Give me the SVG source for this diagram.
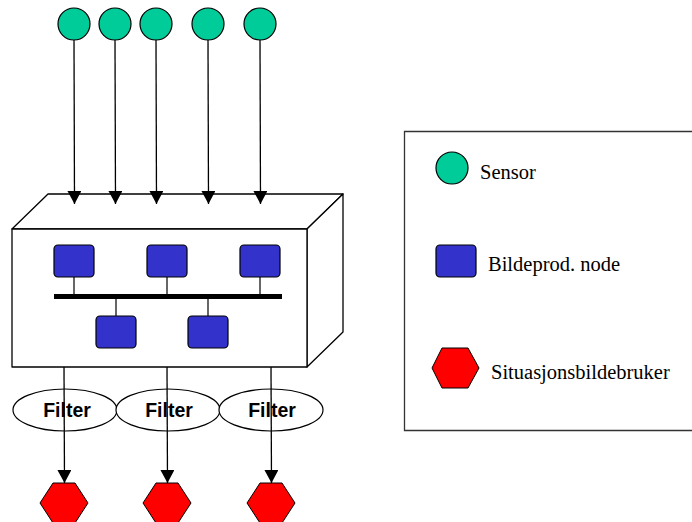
<svg xmlns="http://www.w3.org/2000/svg" width="692" height="522" viewBox="0 0 692 522">
  <defs>
    <marker id="arrow" markerWidth="13" markerHeight="14" refX="13" refY="7" orient="auto" markerUnits="userSpaceOnUse">
      <path d="M0,0 L13,7 L0,14 Z" fill="#000"/>
    </marker>
    <style>
      .edge { stroke: #000; stroke-width: 1.3; fill: none; }
      .sensor { fill: #00CC99; stroke: #000; stroke-width: 1.2; }
      .node { fill: #3333CC; stroke: #000; stroke-width: 1.2; }
      .user { fill: #FF0000; stroke: #000; stroke-width: 1; }
      .box { fill: #fff; stroke: #000; stroke-width: 1.3; stroke-linejoin: round; }
      .filter { fill: #fff; stroke: #000; stroke-width: 1.2; }
      .filter-label { font-family: "Liberation Sans", Arial, sans-serif; font-weight: bold; font-size: 19.5px; text-anchor: middle; }
      .legend-label { font-family: "Liberation Serif", "Times New Roman", serif; font-size: 20.5px; }
      .link { stroke: #000; stroke-width: 1.2; }
    </style>
  </defs>

  <rect width="692" height="522" fill="#fff"/>

  <!-- system box (3D block) -->
  <g id="system">
    <polygon class="box" points="48,194 343,194 307,229 12,229"/>
    <polygon class="box" points="307,229 343,194 343,332 307,367"/>
    <rect class="box" x="12" y="229" width="295" height="138"/>
  </g>

  <!-- internal bus network -->
  <g id="bus">
    <rect x="54" y="294" width="228" height="5" fill="#000"/>
    <line class="link" x1="74" y1="277" x2="74" y2="294"/>
    <line class="link" x1="167" y1="277" x2="167" y2="294"/>
    <line class="link" x1="260" y1="277" x2="260" y2="294"/>
    <line class="link" x1="116" y1="299" x2="116" y2="316"/>
    <line class="link" x1="208" y1="299" x2="208" y2="316"/>
  </g>

  <g id="node1"><rect class="node" x="54" y="245" width="40" height="32" rx="4"/></g>
  <g id="node2"><rect class="node" x="147" y="245" width="40" height="32" rx="4"/></g>
  <g id="node3"><rect class="node" x="240" y="245" width="40" height="32" rx="4"/></g>
  <g id="node4"><rect class="node" x="96" y="316" width="40" height="32" rx="4"/></g>
  <g id="node5"><rect class="node" x="188" y="316" width="40" height="32" rx="4"/></g>

  <!-- sensors -->
  <g id="sensor1"><circle class="sensor" cx="74" cy="24" r="16"/></g>
  <g id="sensor2"><circle class="sensor" cx="115" cy="24" r="16"/></g>
  <g id="sensor3"><circle class="sensor" cx="156" cy="24" r="16"/></g>
  <g id="sensor4"><circle class="sensor" cx="208" cy="24" r="16"/></g>
  <g id="sensor5"><circle class="sensor" cx="260" cy="24" r="16"/></g>

  <!-- filters -->
  <g id="filter1">
    <ellipse class="filter" cx="65" cy="410" rx="52" ry="21"/>
    <text class="filter-label" x="67" y="417">Filter</text>
  </g>
  <g id="filter2">
    <ellipse class="filter" cx="168" cy="410" rx="52" ry="21"/>
    <text class="filter-label" x="169" y="417">Filter</text>
  </g>
  <g id="filter3">
    <ellipse class="filter" cx="271" cy="410" rx="52" ry="21"/>
    <text class="filter-label" x="272" y="417">Filter</text>
  </g>

  <!-- picture users -->
  <g id="user1"><polygon class="user" points="40,503 53,483 75,483 88,503 75,523 53,523"/></g>
  <g id="user2"><polygon class="user" points="143,503 156,483 178,483 191,503 178,523 156,523"/></g>
  <g id="user3"><polygon class="user" points="247,503 260,483 282,483 295,503 282,523 260,523"/></g>

  <!-- connectors -->
  <g id="connectors">
    <line class="edge" x1="74" y1="40" x2="74.5" y2="204" marker-end="url(#arrow)"/>
    <line class="edge" x1="115" y1="40" x2="115.5" y2="204" marker-end="url(#arrow)"/>
    <line class="edge" x1="156" y1="40" x2="156.5" y2="204" marker-end="url(#arrow)"/>
    <line class="edge" x1="208" y1="40" x2="208.5" y2="204" marker-end="url(#arrow)"/>
    <line class="edge" x1="260" y1="40" x2="260.5" y2="204" marker-end="url(#arrow)"/>
    <line class="edge" x1="64" y1="367" x2="64.5" y2="483" marker-end="url(#arrow)"/>
    <line class="edge" x1="167" y1="367" x2="167.5" y2="483" marker-end="url(#arrow)"/>
    <line class="edge" x1="271" y1="367" x2="271.5" y2="483" marker-end="url(#arrow)"/>
  </g>

  <!-- legend -->
  <g id="legend">
    <path d="M693,131.5 H404.5 V430.5 H693" fill="#fff" stroke="#333" stroke-width="1.3"/>
    <circle class="sensor" cx="452" cy="168" r="16"/>
    <text class="legend-label" x="480" y="179">Sensor</text>
    <rect class="node" x="436" y="245" width="40" height="32" rx="4"/>
    <text class="legend-label" x="488" y="271">Bildeprod. node</text>
    <polygon class="user" points="432,368 442,348 468,348 479,368 468,388 442,388"/>
    <text class="legend-label" x="491" y="379">Situasjonsbildebruker</text>
  </g>
</svg>
